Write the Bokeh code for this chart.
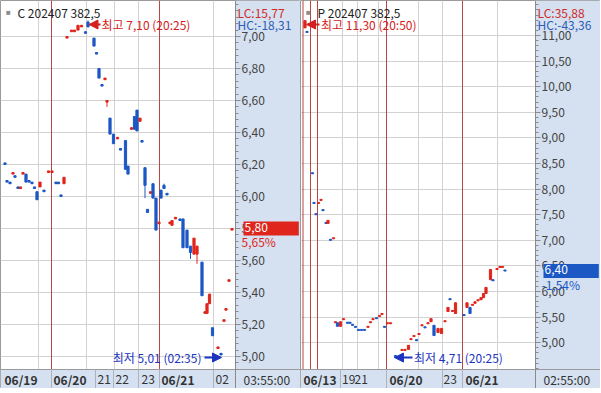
from bokeh.plotting import figure
from bokeh.models import (Range1d, FixedTicker, CustomJSTickFormatter, Span, Label,
                          Arrow, NormalHead, Grid, LinearAxis, ColumnDataSource, BoxAnnotation)
from bokeh.layouts import row
from bokeh.embed import file_html
from bokeh.resources import INLINE

# ---------------- data: C 202407 382.5 (left) ----------------
c_t = [4.5, 6.5, 9.5, 12.5, 14.5, 17.5, 20, 22.5, 25.5, 28.5, 31.5, 34, 36.5, 39.5, 43.5,
       48, 51.5, 55.5, 58, 60.5, 63.5, 66.5, 71, 74, 77.5, 81, 85, 87.5, 93.5, 96, 98.5,
       101.5, 104.5, 106.5, 109.5, 113, 117, 120, 125, 127.5, 131, 134, 136.5, 139.5, 141.5,
       144.5, 147, 150, 152.5, 155.5, 158.5, 160.5, 163.5, 166.5, 169.5, 171.5, 175, 179.5,
       182.5, 186.5, 190, 193.5, 196.5, 201.5, 204.5, 206.5, 209, 212, 217.5, 220.5, 223.5,
       225.5, 228.5, 231.5]
c_open = [6.21, 6.10, 6.09, 6.14, 6.13, 6.06, 6.05, 6.14, 6.14, 6.10, 6.09, 6.06, 6.03, 6.06, 6.04,
          6.15, 6.15, 6.09, 6.09, 6.01, 6.08, 6.99, 7.03, 7.03, 7.04, 7.06, 7.03, 7.09, 6.99, 6.90, 6.80,
          6.70, 6.73, 6.59, 6.49, 6.39, 6.36, 6.30, 6.35, 6.19, 6.42, 6.50, 6.54, 6.47, 6.35,
          6.18, 5.92, 6.02, 6.08, 5.99, 5.83, 6.04, 6.07, 6.02, 5.83, 5.82, 5.86, 5.86,
          5.86, 5.79, 5.69, 5.64, 5.64, 5.59, 5.27, 5.27, 5.33, 5.18, 5.05, 5.02, 5.22,
          5.29, 5.47, 5.79]
c_high = [6.21, 6.10, 6.09, 6.15, 6.13, 6.06, 6.06, 6.15, 6.14, 6.10, 6.09, 6.06, 6.03, 6.09, 6.04,
          6.16, 6.16, 6.09, 6.09, 6.01, 6.12, 7.00, 7.04, 7.04, 7.07, 7.07, 7.03, 7.10, 6.99, 6.90, 6.80,
          6.70, 6.74, 6.60, 6.49, 6.39, 6.37, 6.30, 6.35, 6.19, 6.43, 6.50, 6.54, 6.49, 6.35,
          6.18, 5.92, 6.03, 6.08, 5.99, 5.84, 6.04, 6.08, 6.02, 5.84, 5.85, 5.87, 5.86,
          5.86, 5.79, 5.69, 5.74, 5.69, 5.59, 5.28, 5.33, 5.39, 5.18, 5.06, 5.02, 5.23,
          5.30, 5.48, 5.80]
c_low = [6.20, 6.09, 6.08, 6.14, 6.12, 6.05, 6.05, 6.14, 6.09, 6.09, 6.08, 6.05, 5.98, 6.06, 6.03,
         6.15, 6.15, 6.08, 6.08, 6.00, 6.08, 6.99, 7.03, 7.03, 7.04, 7.06, 7.02, 7.06, 6.94, 6.89, 6.74,
         6.69, 6.73, 6.56, 6.39, 6.33, 6.36, 6.29, 6.17, 6.14, 6.42, 6.42, 6.41, 6.47, 6.34,
         5.99, 5.90, 6.02, 5.99, 5.79, 5.83, 5.99, 6.05, 6.01, 5.83, 5.82, 5.86, 5.85,
         5.68, 5.68, 5.61, 5.64, 5.58, 5.38, 5.27, 5.27, 5.33, 5.13, 5.05, 5.01, 5.22,
         5.29, 5.47, 5.79]
c_close = [6.20, 6.09, 6.08, 6.15, 6.12, 6.05, 6.06, 6.15, 6.09, 6.09, 6.08, 6.05, 5.98, 6.09, 6.03,
           6.16, 6.16, 6.08, 6.08, 6.00, 6.12, 7.00, 7.04, 7.04, 7.07, 7.07, 7.02, 7.06, 6.94, 6.89, 6.74,
           6.69, 6.74, 6.60, 6.39, 6.33, 6.37, 6.29, 6.17, 6.14, 6.43, 6.42, 6.41, 6.49, 6.34,
           6.07, 5.90, 6.03, 5.99, 5.79, 5.84, 5.99, 6.05, 6.01, 5.84, 5.85, 5.87, 5.85,
           5.68, 5.68, 5.65, 5.74, 5.69, 5.38, 5.28, 5.33, 5.39, 5.13, 5.06, 5.01, 5.23,
           5.30, 5.48, 5.80]
c_session_lines = [51, 159]
c_grid_x = [38, 86, 114, 138, 213]
c_band_seps = [51, 95, 113, 138, 159, 213]
c_dates = ["06/19", "06/20", "21", "22", "23", "06/21", "02"]
c_date_t = [4, 53, 97, 115, 141, 161, 215]
c_date_bold = [True, True, False, False, False, True, False]

# ---------------- data: P 202407 382.5 (right) ----------------
p_t = [2.5, 4.5, 10, 11.5, 13.5, 16, 18.5, 20.5, 23.5, 25.5, 28, 31, 33, 35, 38, 41, 45, 47.5,
       50, 53, 56, 59, 62, 65.5, 68, 70.5, 74, 77, 79.5, 82, 85, 88, 93, 99.5, 102.5, 106,
       108.5, 111.5, 114, 116.5, 119.5, 122.5, 125.5, 128.5, 131.5, 135.5, 139, 142.5, 145.5,
       147.5, 150, 153, 161.5, 164.5, 167.5, 170, 172.5, 175.5, 178.5, 181, 183.5, 188, 190.5,
       194.5, 197.5, 200, 202.5]
p_open = [11.15, 11.08, 8.32, 7.74, 7.52, 7.72, 7.78, 7.60, 7.35, 7.33, 7.02, 7.03, 5.39, 5.39,
          5.32, 5.45, 5.40, 5.40, 5.36, 5.32, 5.26, 5.26, 5.26, 5.30, 5.39, 5.45, 5.49, 5.51, 5.55,
          5.32, 5.37, 5.37, 4.75, 4.85, 4.85, 4.87, 5.06, 5.12, 5.06, 5.16, 5.33, 5.31, 5.37,
          5.41, 5.34, 5.20, 5.18, 5.41, 5.61, 5.86, 5.61, 5.57, 5.55, 5.69, 5.69, 5.73, 5.77,
          5.82, 5.84, 5.88, 5.96, 6.23, 6.23, 6.43, 6.47, 6.47, 6.42]
p_high = [11.30, 11.08, 8.32, 7.74, 7.52, 7.74, 7.80, 7.60, 7.35, 7.39, 7.02, 7.05, 5.41, 5.39,
          5.41, 5.47, 5.40, 5.40, 5.36, 5.32, 5.26, 5.26, 5.26, 5.32, 5.41, 5.47, 5.49, 5.53, 5.57,
          5.32, 5.39, 5.39, 4.75, 4.87, 4.87, 4.95, 5.08, 5.14, 5.06, 5.18, 5.35, 5.31, 5.39,
          5.47, 5.34, 5.28, 5.28, 5.43, 5.69, 5.86, 5.63, 5.78, 5.55, 5.78, 5.69, 5.75, 5.80,
          5.84, 5.88, 5.96, 6.08, 6.43, 6.23, 6.45, 6.49, 6.49, 6.42]
p_low = [11.15, 11.06, 8.30, 7.72, 7.50, 7.72, 7.78, 7.58, 7.33, 7.33, 7.00, 7.03, 5.39, 5.32,
         5.32, 5.45, 5.38, 5.38, 5.34, 5.30, 5.24, 5.24, 5.24, 5.30, 5.39, 5.45, 5.47, 5.51, 5.55,
         5.30, 5.37, 5.37, 4.71, 4.85, 4.85, 4.87, 5.06, 5.12, 5.04, 5.16, 5.33, 5.29, 5.37,
         5.41, 5.14, 5.20, 5.18, 5.41, 5.61, 5.84, 5.61, 5.57, 5.53, 5.69, 5.57, 5.73, 5.77,
         5.82, 5.84, 5.88, 5.96, 6.23, 6.21, 6.43, 6.47, 6.47, 6.40]
p_close = [11.29, 11.06, 8.30, 7.72, 7.50, 7.74, 7.80, 7.58, 7.33, 7.39, 7.00, 7.05, 5.41, 5.32,
           5.41, 5.47, 5.38, 5.38, 5.34, 5.30, 5.24, 5.24, 5.24, 5.32, 5.41, 5.47, 5.47, 5.53, 5.57,
           5.30, 5.39, 5.39, 4.72, 4.87, 4.87, 4.95, 5.08, 5.14, 5.04, 5.18, 5.35, 5.29, 5.39,
           5.47, 5.14, 5.28, 5.28, 5.43, 5.69, 5.84, 5.63, 5.78, 5.53, 5.78, 5.57, 5.75, 5.80,
           5.84, 5.88, 5.96, 6.08, 6.43, 6.21, 6.45, 6.49, 6.49, 6.40]
p_session_lines = [0.5, 8, 15, 84, 160]
p_grid_x = [40, 55, 76, 116, 140, 195]
p_band_seps = [38, 84, 140, 160]
p_dates = ["06/13", "19", "21", "06/20", "23", "06/21"]
p_date_t = [1, 39.5, 52, 87, 141, 163]
p_date_bold = [True, False, False, True, False, True]

RED = "#e0251c"
BLUE = "#1c58c4"
BAND = "#d5e1f0"
FONT = "Noto Sans CJK KR"
W, H = 300, 388
BAND_H = 19           # px height of the date band
PLOT_H = H - BAND_H   # px height of the price area


def panel(t, o, h, l, c, x0, x_axis_at, ylo, yhi, major, minor, session, gridx, seps,
          dates, date_t, bold, title, sq_x, title_x, lc, hc, last, last_txt, pct, box_color,
          hi, lo, time_lbl):
    per_px = (yhi - ylo) / PLOT_H
    yband = ylo - BAND_H * per_px
    p = figure(width=W, height=H, output_backend="svg", toolbar_location=None,
               x_range=Range1d(x0, x0 + W), y_range=Range1d(yband, yhi),
               y_axis_location=None, x_axis_location=None,
               min_border_left=0, min_border_top=0, min_border_right=0, min_border_bottom=0)
    p.background_fill_color = "white"
    p.border_fill_color = "white"
    p.outline_line_color = "#9a9a9a"
    for g in p.grid:
        g.visible = False

    p.add_layout(Grid(dimension=1, ticker=FixedTicker(ticks=major), grid_line_color="#d2d2d2"))
    p.add_layout(Grid(dimension=0, ticker=FixedTicker(ticks=gridx), grid_line_color="#d2d2d2"))
    for s in session:
        p.add_layout(Span(location=s, dimension="height", line_color="#b94545", line_width=1,
                          level="underlay"))
    # light blue bands (axis column and date row)
    p.add_layout(BoxAnnotation(left=x_axis_at, fill_color=BAND, fill_alpha=1, line_color=None,
                               level="underlay"))
    p.add_layout(BoxAnnotation(top=ylo, fill_color=BAND, fill_alpha=1, line_color=None,
                               level="underlay"))
    p.add_layout(Span(location=ylo, dimension="width", line_color="#9a9a9a", line_width=1,
                      level="underlay"))

    ax = LinearAxis(fixed_location=x_axis_at)
    ax.ticker = FixedTicker(ticks=major, minor_ticks=minor)
    ax.formatter = CustomJSTickFormatter(code="return tick.toFixed(2).replace('.', ',');")
    ax.major_label_text_font = FONT
    ax.major_label_text_font_size = "12px"
    ax.major_label_text_color = "#444444"
    ax.axis_line_color = "#8a8a8a"
    ax.major_tick_line_color = "#8a8a8a"
    ax.minor_tick_line_color = "#8a8a8a"
    ax.major_tick_out = 5
    ax.major_tick_in = 0
    ax.minor_tick_out = 3
    ax.minor_tick_in = 0
    ax.major_label_standoff = 1
    p.add_layout(ax, "right")

    colors = [RED if cc >= oo else BLUE for oo, cc in zip(o, c)]
    src = ColumnDataSource(dict(t=t, top=[max(a, b) for a, b in zip(o, c)],
                                bottom=[min(a, b) for a, b in zip(o, c)],
                                high=h, low=l, color=colors))
    p.segment(x0="t", y0="low", x1="t", y1="high", line_color="color", line_width=1, source=src)
    p.vbar(x="t", width=2.2, top="top", bottom="bottom", fill_color="color",
           line_color="color", line_width=1, source=src)

    # separators inside the date band
    sep = p.segment(x0=seps, y0=[yband] * len(seps), x1=seps, y1=[ylo] * len(seps),
                    line_color="#a9b3c4", line_width=1)
    sep.level = "overlay"

    # title and LC/HC
    p.add_layout(Label(x=sq_x, y=H - 12, y_units="screen", text="■", text_font_size="8px",
                       text_color="#8c8c8c", text_baseline="middle", text_align="center"))
    p.add_layout(Label(x=title_x, y=H - 12, y_units="screen", text=title, text_font=FONT,
                       text_font_size="12px", text_color="#222222", text_baseline="middle"))
    p.add_layout(Label(x=x_axis_at + 2, y=H - 12, y_units="screen", text=lc, text_font=FONT,
                       text_font_size="12px", text_color="#d02a2a", text_baseline="middle"))
    p.add_layout(Label(x=x_axis_at + 2, y=H - 24, y_units="screen", text=hc, text_font=FONT,
                       text_font_size="12px", text_color="#2a5cb8", text_baseline="middle"))
    # last price box and change
    p.add_layout(Label(x=x_axis_at + 8, y=last, text=last_txt, text_font=FONT,
                       text_font_size="12px", text_color="white", text_baseline="middle",
                       background_fill_color=box_color, padding=(1, 31, 1, 4)))
    p.add_layout(Label(x=x_axis_at + 6, y=last, y_offset=-13, text=pct, text_font=FONT,
                       text_font_size="12px", text_color=box_color, text_baseline="middle"))
    # high / low annotations
    for (ty, tx0, tx1, lx, align, txt, col) in (hi, lo):
        p.add_layout(Arrow(end=NormalHead(size=9, fill_color=col, line_color=col),
                           x_start=tx0, y_start=ty, x_end=tx1, y_end=ty,
                           line_color=col, line_width=2))
        p.add_layout(Label(x=lx, y=ty, text=txt, text_font=FONT, text_font_size="12px",
                           text_color=col, text_baseline="middle", text_align=align))
    # date band
    for d, dt, b in zip(dates, date_t, bold):
        p.add_layout(Label(x=dt, y=BAND_H / 2, y_units="screen", text=d, text_font=FONT,
                           text_font_size="12px", text_color="#333333",
                           text_font_style="bold" if b else "normal", text_baseline="middle"))
    p.add_layout(Label(x=x_axis_at + 8, y=BAND_H / 2, y_units="screen", text=time_lbl,
                       text_font=FONT, text_font_size="12px", text_color="#333333",
                       text_baseline="middle"))
    return p


c_major = [round(5.0 + 0.2 * i, 2) for i in range(11)]
c_minor = [round(4.92 + 0.04 * i, 2) for i in range(58)]
p_major = [round(5.0 + 0.5 * i, 2) for i in range(13)]
p_minor = [round(4.5 + 0.1 * i, 2) for i in range(72)]

left = panel(c_t, c_open, c_high, c_low, c_close, 0, 235, 4.919, 7.225, c_major, c_minor,
             c_session_lines, c_grid_x, c_band_seps, c_dates, c_date_t, c_date_bold,
             "C 202407 382,5", 8, 17, "LC:15,77", "HC:-18,31", 5.80, "5,80", "5,65%", RED,
             (7.075, 100, 88.5, 101, "left", "최고 7,10 (20:25)", "#d42020"),
             (4.994, 204, 221, 201, "right", "최저 5,01 (02:35)", "#1c34c0"), "03:55:00")
right = panel(p_t, p_open, p_high, p_low, p_close, -2, 233, 4.477, 11.684, p_major, p_minor,
              p_session_lines, p_grid_x, p_band_seps, p_dates, p_date_t, p_date_bold,
              "P 202407 382,5", 6, 15, "LC:35,88", "HC:-43,36", 6.40, "6,40", "-1,54%", BLUE,
              (11.215, 17, 4, 18.5, "left", "최고 11,30 (20:50)", "#d42020"),
              (4.71, 110, 92, 111.5, "left", "최저 4,71 (20:25)", "#1c34c0"), "02:55:00")

layout = row(left, right)
open("out.html", "w").write(file_html(layout, INLINE))
